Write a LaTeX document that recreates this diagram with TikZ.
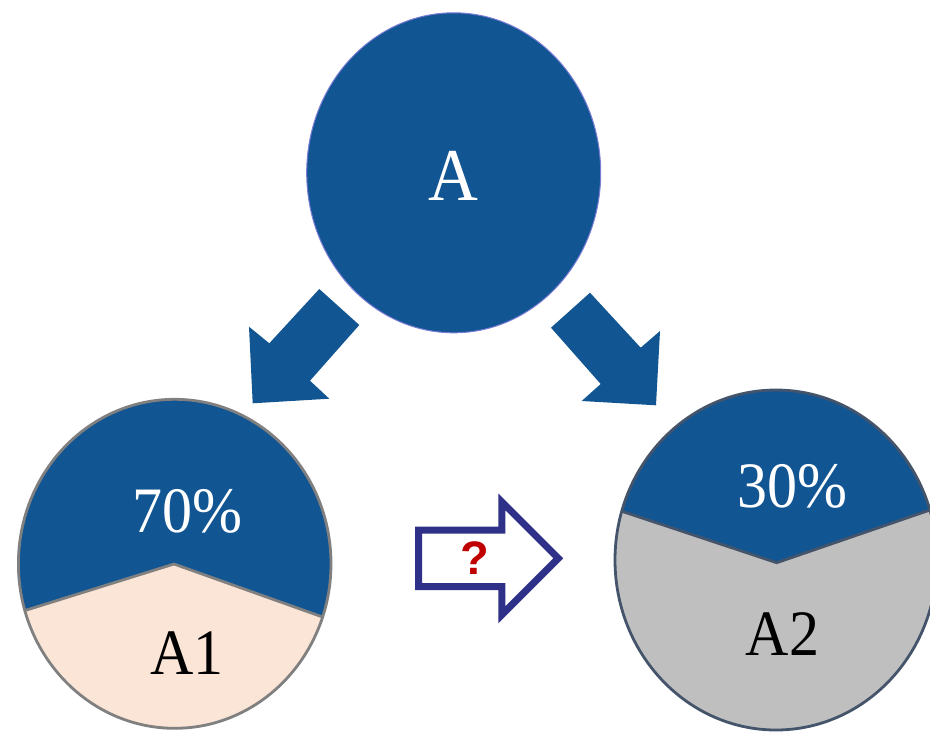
\documentclass[tikz,border=0pt]{standalone}
\usepackage{fontspec}
\setmainfont{Liberation Serif}
\newfontfamily\qfont{Liberation Sans}
\usetikzlibrary{shapes.geometric}
\definecolor{mainblue}{RGB}{17,85,147}
\definecolor{peach}{RGB}{251,229,214}
\definecolor{pieGray}{RGB}{191,191,191}
\definecolor{edgeGray}{RGB}{128,128,128}
\definecolor{edgeSlate}{RGB}{68,84,106}
\definecolor{rimViolet}{RGB}{125,125,215}
\definecolor{navyLine}{RGB}{46,49,135}
\definecolor{qRed}{RGB}{192,0,0}
\tikzset{
  blockarrow/.style={fill=mainblue, draw=none},
  whitetext/.style={text=white, inner sep=0pt, font=\fontsize{60}{60}\selectfont},
  blacktext/.style={text=black, inner sep=0pt, font=\fontsize{60}{60}\selectfont},
  leftrim/.style={draw=edgeGray, line width=2.8pt},
  rightrim/.style={draw=edgeSlate, line width=2.8pt},
}
\begin{document}
\begin{tikzpicture}[x=1pt,y=-1pt]
\useasboundingbox (0,0) rectangle (930,732);
\clip (0,0) rectangle (930,732);
\fill[white] (0,0) rectangle (930,732);

% top ellipse A
\node[ellipse, fill=mainblue, draw=rimViolet, line width=1pt,
      minimum width=294pt, minimum height=320pt, inner sep=0pt] (A) at (453.7,172.8) {};
\node[text=white, inner sep=0pt, font=\fontsize{69}{69}\selectfont] (Alab) at (453.3,176) {\scalebox{1}[1.08]{A}};

% block arrows
\fill[blockarrow] (319.3,289) -- (359.3,325) -- (310,380.7) -- (329.3,398.7)
   -- (252.7,403.3) -- (249,326.7) -- (269.3,343.3) -- cycle;
\fill[blockarrow] (590,292.7) -- (551,327.7) -- (600.7,384) -- (581.7,401)
   -- (656,405.3) -- (660,331) -- (640.7,347.7) -- cycle;

% left pie A1
\coordinate (c1) at (174.7,563.8);
\begin{scope}
  \clip (c1) ellipse [x radius=156.3pt, y radius=164.5pt];
  \fill[peach] (0,380) rectangle (340,740);
  \fill[mainblue] (0,380) -- (0,618.3) -- (174,564) -- (340,623.2) -- (340,380) -- cycle;
  \draw[draw=edgeGray, line width=2.8pt, line join=round] (0,618.3) -- (174,564) -- (340,623.2);
\end{scope}
\draw[leftrim] (c1) ellipse [x radius=156.3pt, y radius=164.5pt];
\node[whitetext] (p70) at (187.6,511.7) {\scalebox{1}[1.08]{70\%}};
\node[blacktext] (A1) at (187,653.3) {\scalebox{1}[1.08]{A1}};

% right pie A2
\coordinate (c2) at (776,560);
\begin{scope}
  \clip (c2) ellipse [x radius=161pt, y radius=170pt];
  \fill[pieGray] (600,380) rectangle (960,740);
  \fill[mainblue] (600,380) -- (600,504) -- (776.7,562.7) -- (950,503.1) -- (950,380) -- cycle;
  \draw[draw=edgeSlate, line width=2.8pt, line join=round] (600,504) -- (776.7,562.7) -- (950,503.1);
\end{scope}
\draw[rightrim] (c2) ellipse [x radius=161pt, y radius=170pt];
\node[whitetext] (p30) at (792.2,486.7) {\scalebox{1}[1.08]{30\%}};
\node[blacktext] (A2) at (782.5,634) {\scalebox{1}[1.08]{A2}};

% hollow arrow with question mark
\draw[navyLine, line width=7pt, line join=miter]
  (418.5,530.2) -- (501.8,530.2) -- (501.8,501.8) -- (558.35,558.3)
  -- (501.8,614.85) -- (501.8,586.5) -- (418.5,586.5) -- cycle;
\node[text=qRed, inner sep=0pt, font=\qfont\bfseries\fontsize{47}{47}\selectfont] (q) at (474.5,558.5) {?};
\end{tikzpicture}
\end{document}
